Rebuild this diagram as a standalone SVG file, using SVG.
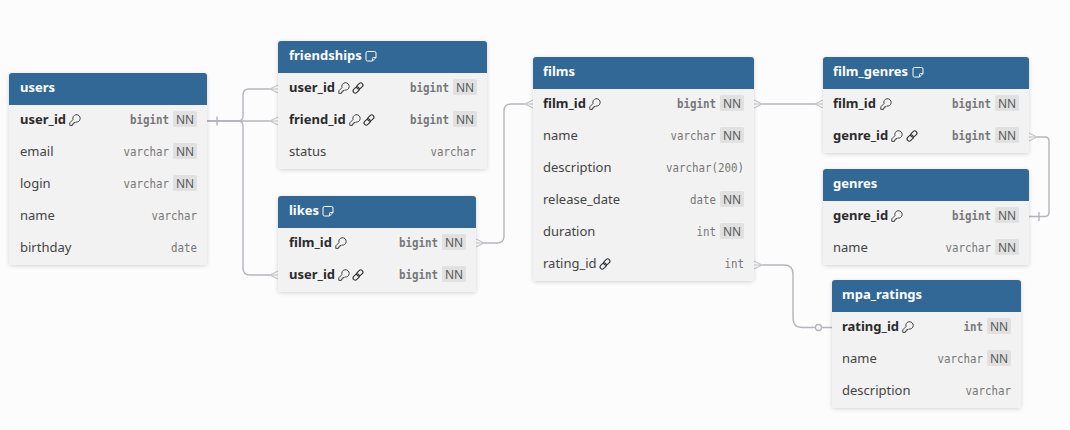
<svg xmlns="http://www.w3.org/2000/svg" width="1070" height="430" viewBox="0 0 1070 430">
<style>
text{font-family:"Noto Sans","Open Sans",sans-serif;font-size:13px;fill:#444}
.h{font-weight:700;fill:#fff;font-size:13px}
.b{font-weight:700;fill:#2b2b2b}
.t{font-family:"DejaVu Sans Mono",monospace;font-size:12px;fill:#777;text-anchor:end}
.tb{font-weight:700}
.nn{fill:#e1e1e1}
.nt{fill:#5a5a5a;font-size:12px;text-anchor:middle}
.body{fill:#f2f2f2;filter:url(#sh)}
.head{fill:#316896}
.c{fill:none;stroke:#b4b4bc;stroke-width:1.4}
.cf{fill:none;stroke:#c4c4ca;stroke-width:1.1}
.ic{fill:none;stroke:#444;stroke-width:1}
.il{fill:none;stroke:#333;stroke-width:1.1}
.icw{fill:none;stroke:#fff;stroke-width:1}
</style>
<defs>
<filter id="sh" x="-10%" y="-10%" width="120%" height="120%"><feDropShadow dx="0" dy="1" stdDeviation="2" flood-color="#000" flood-opacity=".16"/></filter>
<g id="key"><path class="ic" d="M4 5.600L.8 8.800V11.400H3.400V10H4.800V8.600H6L6.600 8A3.700 3.700 0 1 0 4 5.600z"/></g>
<g id="lnk"><rect class="il" x="4.300" y="1.800" width="7" height="4.400" rx="2.200" transform="rotate(-45 7.800 4)"/><rect class="il" x=".7" y="5.800" width="7" height="4.400" rx="2.200" transform="rotate(-45 4.200 8)"/></g>
<g id="note"><path class="icw" d="M2.500 1.500H9.500a1.500 1.500 0 0 1 1.500 1.500V7.500L7.500 11H2.500a1.500 1.500 0 0 1-1.500-1.500V3a1.500 1.500 0 0 1 1.500-1.500zM7.500 11V8.500a1 1 0 0 1 1-1H11"/></g>
<rect id="nnb" class="nn" width="24" height="16" rx="1.500"/>
</defs>
<rect width="1070" height="430" fill="#fcfcfc"/>
<g id="connectors">
<path class="c" d="M207 121H238Q243 121 243 116V95Q243 89 249 89H270"/>
<path class="c" d="M207 121H270"/>
<path class="c" d="M207 121H238Q243 121 243 126V268Q243 275 250 275H270"/>
<path class="c" d="M217 116.500V125.500"/>
<path class="cf" d="M278 85L270 89L278 93M278 89H270M278 117L270 121L278 125M278 121H270M278 271L270 275L278 279M278 275H270"/>
<path class="c" d="M484 243H497Q504 243 504 236V111Q504 104 511 104H525"/>
<path class="cf" d="M476 239L484 243L476 247M476 243H484M533 100L525 104L533 108M533 104H525"/>
<path class="c" d="M762 104H815"/>
<path class="cf" d="M754 100L762 104L754 108M754 104H762M823 100L815 104L823 108M823 104H815"/>
<path class="c" d="M1037 137H1045Q1049 137 1049 141V212Q1049 216.500 1045 216.500H1029"/>
<path class="cf" d="M1029 133L1037 137L1029 141M1029 137H1037"/>
<path class="c" d="M1039 212V221"/>
<path class="c" d="M762 265H784Q793 265 793 274V318Q793 327.500 802 327.500H815M822 327.500H832"/>
<path class="cf" d="M754 261L762 265L754 269M754 265H762"/>
<circle cx="818.500" cy="327.500" r="3" fill="#fcfcfc" stroke="#b4b4bc" stroke-width="1.300"/>
</g>
<g id="users">
<rect class="body" x="9" y="73" width="198" height="192" rx="3"/>
<path class="head" d="M9 105V76a3 3 0 0 1 3-3H204a3 3 0 0 1 3 3V105z"/>
<text class="h" x="20" y="92">users</text>
<text class="b" x="20" y="124">user_id</text><use href="#key" x="69" y="114"/>
<text class="t tb" x="169" y="124" textLength="39" lengthAdjust="spacingAndGlyphs">bigint</text><use href="#nnb" x="173" y="111"/><text class="nt" x="185" y="124">NN</text>
<text x="20" y="156">email</text><text class="t" x="169" y="156" textLength="45.500" lengthAdjust="spacingAndGlyphs">varchar</text><use href="#nnb" x="173" y="143"/><text class="nt" x="185" y="156">NN</text>
<text x="20" y="188">login</text><text class="t" x="169" y="188" textLength="45.500" lengthAdjust="spacingAndGlyphs">varchar</text><use href="#nnb" x="173" y="175"/><text class="nt" x="185" y="188">NN</text>
<text x="20" y="220">name</text><text class="t" x="197" y="220" textLength="45.500" lengthAdjust="spacingAndGlyphs">varchar</text>
<text x="20" y="252">birthday</text><text class="t" x="197" y="252" textLength="26" lengthAdjust="spacingAndGlyphs">date</text>
</g>
<g id="friendships">
<rect class="body" x="278" y="41" width="209" height="128" rx="3"/>
<path class="head" d="M278 73V44a3 3 0 0 1 3-3H484a3 3 0 0 1 3 3V73z"/>
<text class="h" x="289" y="60">friendships</text><use href="#note" x="365" y="50"/>
<text class="b" x="289" y="92">user_id</text><use href="#key" x="338" y="82"/><use href="#lnk" x="352" y="82"/>
<text class="t tb" x="449" y="92" textLength="39" lengthAdjust="spacingAndGlyphs">bigint</text><use href="#nnb" x="453" y="79"/><text class="nt" x="465" y="92">NN</text>
<text class="b" x="289" y="124">friend_id</text><use href="#key" x="349" y="114"/><use href="#lnk" x="363" y="114"/>
<text class="t tb" x="449" y="124" textLength="39" lengthAdjust="spacingAndGlyphs">bigint</text><use href="#nnb" x="453" y="111"/><text class="nt" x="465" y="124">NN</text>
<text x="289" y="156">status</text><text class="t" x="476" y="156" textLength="45.500" lengthAdjust="spacingAndGlyphs">varchar</text>
</g>
<g id="likes">
<rect class="body" x="278" y="196" width="198" height="96" rx="3"/>
<path class="head" d="M278 228V199a3 3 0 0 1 3-3H473a3 3 0 0 1 3 3V228z"/>
<text class="h" x="289" y="215">likes</text><use href="#note" x="322" y="205"/>
<text class="b" x="289" y="247">film_id</text><use href="#key" x="335" y="237"/>
<text class="t tb" x="438" y="247" textLength="39" lengthAdjust="spacingAndGlyphs">bigint</text><use href="#nnb" x="442" y="234"/><text class="nt" x="454" y="247">NN</text>
<text class="b" x="289" y="279">user_id</text><use href="#key" x="338" y="269"/><use href="#lnk" x="352" y="269"/>
<text class="t tb" x="438" y="279" textLength="39" lengthAdjust="spacingAndGlyphs">bigint</text><use href="#nnb" x="442" y="266"/><text class="nt" x="454" y="279">NN</text>
</g>
<g id="films">
<rect class="body" x="533" y="57" width="221" height="224" rx="3"/>
<path class="head" d="M533 89V60a3 3 0 0 1 3-3H751a3 3 0 0 1 3 3V89z"/>
<text class="h" x="543" y="76">films</text>
<text class="b" x="543" y="108">film_id</text><use href="#key" x="589" y="98"/>
<text class="t tb" x="716" y="108" textLength="39" lengthAdjust="spacingAndGlyphs">bigint</text><use href="#nnb" x="720" y="95"/><text class="nt" x="732" y="108">NN</text>
<text x="543" y="140">name</text><text class="t" x="716" y="140" textLength="45.500" lengthAdjust="spacingAndGlyphs">varchar</text><use href="#nnb" x="720" y="127"/><text class="nt" x="732" y="140">NN</text>
<text x="543" y="172">description</text><text class="t" x="744" y="172" textLength="78" lengthAdjust="spacingAndGlyphs">varchar(200)</text>
<text x="543" y="204">release_date</text><text class="t" x="716" y="204" textLength="26" lengthAdjust="spacingAndGlyphs">date</text><use href="#nnb" x="720" y="191"/><text class="nt" x="732" y="204">NN</text>
<text x="543" y="236">duration</text><text class="t" x="716" y="236" textLength="19.500" lengthAdjust="spacingAndGlyphs">int</text><use href="#nnb" x="720" y="223"/><text class="nt" x="732" y="236">NN</text>
<text x="543" y="268">rating_id</text><use href="#lnk" x="599" y="258"/><text class="t" x="744" y="268" textLength="19.500" lengthAdjust="spacingAndGlyphs">int</text>
</g>
<g id="film_genres">
<rect class="body" x="823" y="57" width="206" height="96" rx="3"/>
<path class="head" d="M823 89V60a3 3 0 0 1 3-3H1026a3 3 0 0 1 3 3V89z"/>
<text class="h" x="833" y="76">film_genres</text><use href="#note" x="912" y="66"/>
<text class="b" x="833" y="108">film_id</text><use href="#key" x="880" y="98"/>
<text class="t tb" x="991" y="108" textLength="39" lengthAdjust="spacingAndGlyphs">bigint</text><use href="#nnb" x="995" y="95"/><text class="nt" x="1007" y="108">NN</text>
<text class="b" x="833" y="140">genre_id</text><use href="#key" x="891" y="130"/><use href="#lnk" x="906" y="130"/>
<text class="t tb" x="991" y="140" textLength="39" lengthAdjust="spacingAndGlyphs">bigint</text><use href="#nnb" x="995" y="127"/><text class="nt" x="1007" y="140">NN</text>
</g>
<g id="genres">
<rect class="body" x="823" y="169" width="206" height="96" rx="3"/>
<path class="head" d="M823 201V172a3 3 0 0 1 3-3H1026a3 3 0 0 1 3 3V201z"/>
<text class="h" x="833" y="188">genres</text>
<text class="b" x="833" y="220">genre_id</text><use href="#key" x="891" y="210"/>
<text class="t tb" x="991" y="220" textLength="39" lengthAdjust="spacingAndGlyphs">bigint</text><use href="#nnb" x="995" y="207"/><text class="nt" x="1007" y="220">NN</text>
<text x="833" y="252">name</text><text class="t" x="991" y="252" textLength="45.500" lengthAdjust="spacingAndGlyphs">varchar</text><use href="#nnb" x="995" y="239"/><text class="nt" x="1007" y="252">NN</text>
</g>
<g id="mpa_ratings">
<rect class="body" x="832" y="280" width="189" height="128" rx="3"/>
<path class="head" d="M832 312V283a3 3 0 0 1 3-3H1018a3 3 0 0 1 3 3V312z"/>
<text class="h" x="842" y="299">mpa_ratings</text>
<text class="b" x="842" y="331">rating_id</text><use href="#key" x="902" y="321"/>
<text class="t tb" x="983" y="331" textLength="19.500" lengthAdjust="spacingAndGlyphs">int</text><use href="#nnb" x="987" y="318"/><text class="nt" x="999" y="331">NN</text>
<text x="842" y="363">name</text><text class="t" x="983" y="363" textLength="45.500" lengthAdjust="spacingAndGlyphs">varchar</text><use href="#nnb" x="987" y="350"/><text class="nt" x="999" y="363">NN</text>
<text x="842" y="395">description</text><text class="t" x="1011" y="395" textLength="45.500" lengthAdjust="spacingAndGlyphs">varchar</text>
</g>
</svg>
